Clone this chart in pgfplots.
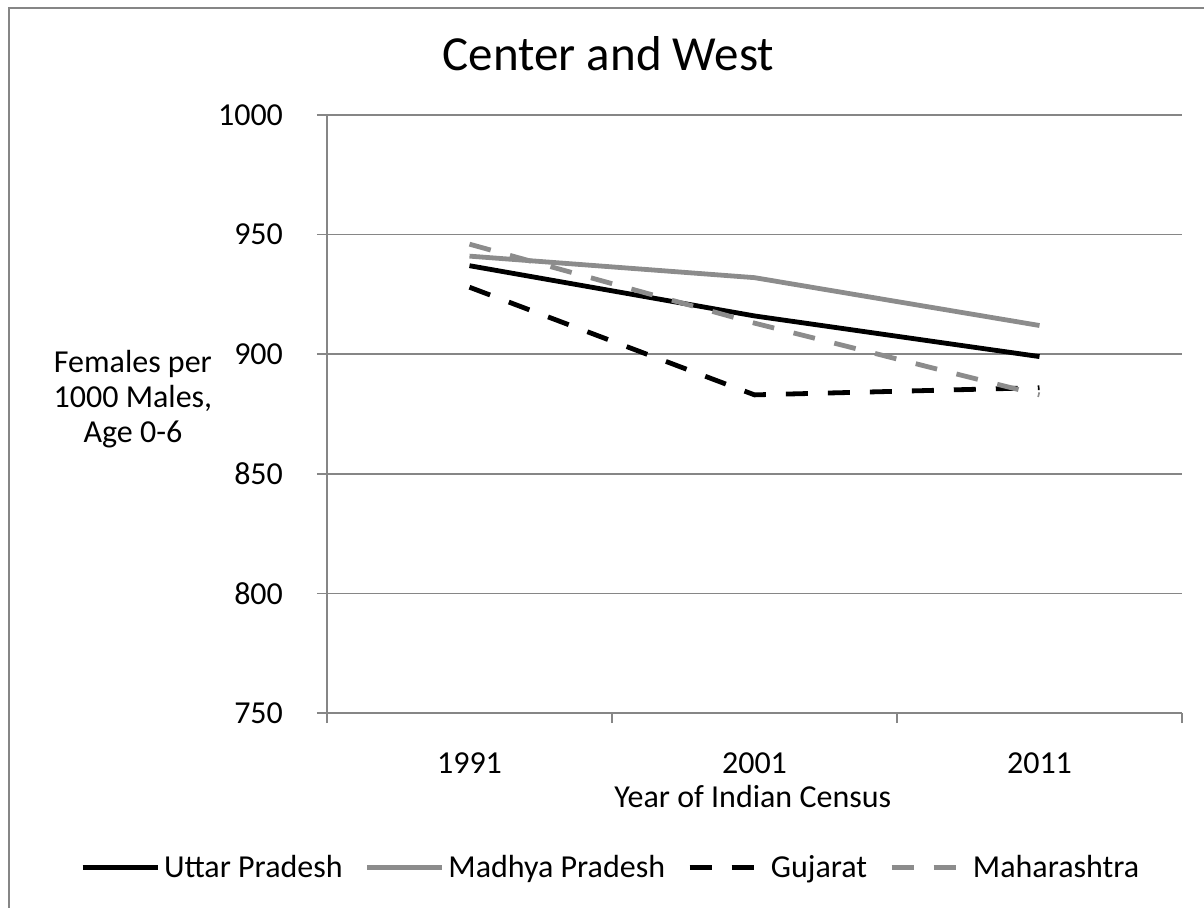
\documentclass[border=0pt]{standalone}
\usepackage{pgfplots}
\pgfplotsset{compat=1.18}
\usepackage{fontspec}
\setmainfont{Carlito}
\definecolor{axisgray}{HTML}{868686}
\definecolor{linegray}{HTML}{8C8C8C}
\begin{document}
\begin{tikzpicture}
\path[use as bounding box] (0pt,0pt) rectangle (602pt,453.5pt);
\draw[axisgray, line width=1pt] (4.5pt,-5pt) -- (4.5pt,449.5pt) -- (610pt,449.5pt);
\begin{axis}[
  at={(163.5pt,97pt)}, anchor=south west,
  scale only axis, width=427.5pt, height=299pt,
  font=\fontsize{16}{19}\selectfont,
  /pgf/number format/assume math mode=true,
  /pgf/number format/1000 sep={},
  xmin=0.5, xmax=3.5, ymin=750, ymax=1000,
  xtick={0.5,1.5,2.5,3.5},
  x tick label as interval,
  xticklabels={1991,2001,2011},
  ytick={750,800,850,900,950,1000},
  tick align=outside, tick pos=left,
  major tick length=5pt,
  axis lines*=left,
  axis line style={axisgray, line width=0.75pt},
  tick style={axisgray, line width=0.75pt},
  ymajorgrids,
  grid style={axisgray, line width=0.75pt},
  xticklabel style={yshift=-11.5pt},
  yticklabel style={xshift=-13.5pt},
  title={Center and West},
  title style={at={(axis description cs:0.329,1.083)}, anchor=center, font=\fontsize{24.5}{29}\selectfont},
  xlabel={Year of Indian Census},
  xlabel style={at={(axis description cs:0.498,-0.140)}, anchor=center},
  ylabel={Females per\\1000 Males,\\Age 0-6},
  ylabel style={rotate=-90, align=center, font=\fontsize{16}{17.5}\selectfont, at={(axis description cs:-0.227,0.525)}, anchor=center},
  legend columns=4,
  legend cell align=left,
  legend style={draw=none, fill=none, at={(axis description cs:0.333,-0.259)}, anchor=center,
    font=\fontsize{16}{19}\selectfont,
    /tikz/every even column/.append style={column sep=9pt}},
  legend image code/.code={\draw[#1] (0pt,0pt) -- (37.5pt,0pt);},
]
\addplot[black, line width=2.4pt, line join=round] coordinates {(1,937) (2,916) (3,899)};
\addlegendentry{Uttar Pradesh}
\addplot[linegray, line width=2.4pt, line join=round] coordinates {(1,941) (2,932) (3,912)};
\addlegendentry{Madhya Pradesh}
\addplot[black, line width=2.4pt, dash pattern=on 11pt off 10pt] coordinates {(1,928) (2,883) (3,886)};
\addlegendentry{Gujarat}
\addplot[linegray, line width=2.4pt, dash pattern=on 11pt off 10pt] coordinates {(1,946) (2,913) (3,883)};
\addlegendentry{Maharashtra}
\end{axis}
\end{tikzpicture}
\end{document}
